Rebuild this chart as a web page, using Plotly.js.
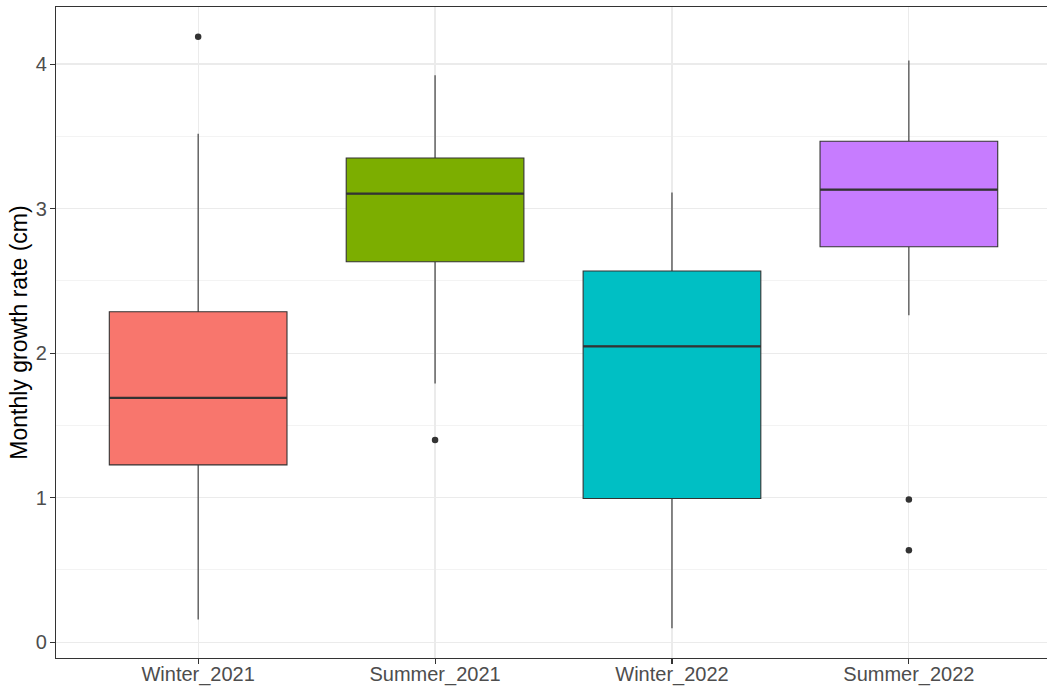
<!DOCTYPE html>
<html>
<head>
<meta charset="utf-8">
<script src="https://cdn.plot.ly/plotly-3.0.1.min.js"></script>
<style>html,body{margin:0;padding:0;background:#fff;overflow:hidden;}#chart{width:1047px;height:691px;}</style>
</head>
<body>
<div id="chart"></div>
<script>
const categories = ["Winter_2021", "Summer_2021", "Winter_2022", "Summer_2022"];
const q1 = [1.227, 2.633, 0.995, 2.736];
const medians = [1.691, 3.104, 2.047, 3.131];
const q3 = [2.287, 3.350, 2.569, 3.466];
const lowerWhisker = [0.158, 1.790, 0.096, 2.263];
const upperWhisker = [3.518, 3.923, 3.112, 4.025];
const outlierCategories = ["Winter_2021", "Summer_2021", "Summer_2022", "Summer_2022"];
const outlierValues = [4.190, 1.399, 0.988, 0.636];
const fillColors = ["#F8766D", "#7CAE00", "#00BFC4", "#C77CFF"];

const boxWidth = 0.75;

const traces = categories.map((c, i) => ({
  type: "box",
  x: [c],
  q1: [q1[i]],
  median: [medians[i]],
  q3: [q3[i]],
  lowerfence: [lowerWhisker[i]],
  upperfence: [upperWhisker[i]],
  width: boxWidth,
  fillcolor: fillColors[i],
  line: { color: "#333333", width: 1.1 },
  whiskerwidth: 0,
  boxpoints: false,
  hoverinfo: "skip",
  showlegend: false
}));

traces.push({
  type: "scatter",
  mode: "markers",
  x: outlierCategories,
  y: outlierValues,
  marker: { color: "#333333", size: 6.5 },
  hoverinfo: "skip",
  showlegend: false
});

const medianShapes = medians.map((m, i) => ({
  type: "line",
  xref: "x", yref: "y",
  x0: i - boxWidth / 2, x1: i + boxWidth / 2,
  y0: m, y1: m,
  line: { color: "#333333", width: 2.2 },
  layer: "above"
}));

const layout = {
  width: 1047,
  height: 691,
  paper_bgcolor: "#ffffff",
  plot_bgcolor: "#ffffff",
  margin: { l: 56, r: 0, t: 7, b: 33 },
  font: { family: "Liberation Sans, Arial, sans-serif" },
  boxmode: "overlay",
  showlegend: false,
  shapes: medianShapes,
  xaxis: {
    type: "category",
    categoryorder: "array",
    categoryarray: categories,
    range: [-0.6, 3.583],
    showgrid: true,
    gridcolor: "#EBEBEB",
    gridwidth: 1.2,
    zeroline: false,
    showline: true,
    linecolor: "#333333",
    linewidth: 1.1,
    mirror: true,
    ticks: "outside",
    ticklen: 5,
    tickwidth: 1.1,
    tickcolor: "#333333",
    ticklabelstandoff: -7,
    tickfont: { size: 20, color: "#4D4D4D", family: "Liberation Sans, Arial, sans-serif" },
    automargin: false
  },
  yaxis: {
    range: [-0.109, 4.395],
    tickvals: [0, 1, 2, 3, 4],
    ticktext: ["0", "1", "2", "3", "4"],
    showgrid: true,
    gridcolor: "#EBEBEB",
    gridwidth: 1.2,
    minor: { dtick: 0.5, tick0: 0.5, showgrid: true, gridcolor: "#F3F3F3", gridwidth: 1, ticks: "" },
    zeroline: false,
    showline: true,
    linecolor: "#333333",
    linewidth: 1.1,
    mirror: false,
    ticks: "outside",
    ticklen: 5,
    tickwidth: 1.1,
    tickcolor: "#333333",
    ticklabelstandoff: -1,
    tickfont: { size: 20, color: "#4D4D4D", family: "Liberation Sans, Arial, sans-serif" },
    title: { text: "Monthly growth rate (cm)", font: { size: 23, color: "#000000", family: "Liberation Sans, Arial, sans-serif" }, standoff: 1 },
    automargin: true
  }
};

Plotly.newPlot("chart", traces, layout, { staticPlot: true, displayModeBar: false });
</script>
</body>
</html>
